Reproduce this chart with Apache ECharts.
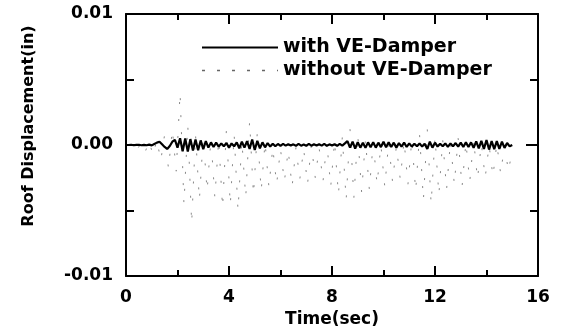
<!DOCTYPE html>
<html>
<head>
<meta charset="utf-8">
<script src="https://cdn.jsdelivr.net/npm/echarts@6/dist/echarts.min.js"></script>
<style>
  html, body { margin: 0; padding: 0; background: #fff; }
  #chart { width: 562px; height: 336px; }
</style>
</head>
<body>
<div id="chart"></div>
<script>
// roof displacement (in)
const xTicks = [0, 4, 8, 12, 16];
const yTicks = [-0.01, 0.00, 0.01];

// with VE-Damper: sampled every 0.1 s from 0 to 15 s
const withDamper = [
  0, 0, 0.00002, -0.00002, 0.00001, 0.00002, -0.00002, 0.00001, -0.00002, 0.00003, -0.00003,
  0.00008, 0.00018, 0.00025, 0.00005, -0.00015, -0.0003, -0.00008, 0.00025, 0.0004, -0.0002,
  0.00052, -0.00048, 0.0005, -0.0005, 0.00045, -0.00042, 0.00042, -0.0004, 0.00035, -0.00032, 0.0003,
  -0.0002, 0.0002, -0.00015, 0.00018, -0.00012, 0.00012, -0.0001, 0.00015, -0.0002, 0.00012, -0.0001,
  0.0002, -0.00025, 0.00025, -0.0002, 0.0003, -0.0003, 0.00042, -0.00038, 0.00032, -0.00025,
  0.0002, -0.00018, 0.00015, -0.00012, 0.0001, -0.0001, 0.00008, -0.00006, 0.00008, -0.00005,
  0.00006, -0.00004, 0.00005, -0.00006, 0.00008, -0.00005, 0.00004, -0.00006, 0.00009, -0.00005,
  0.00005, -0.00004, 0.00006, -0.00005, 0.00008, -0.00006, 0.00005, -0.00004, 0.00006, -0.00006,
  0.00008, -0.00005, 0.00012, 0.0003, -0.0002, 0.00025, -0.00028, 0.00022, -0.0002, 0.00018,
  -0.00022, 0.0002, -0.00018, 0.00022, -0.0002, 0.00018, -0.00016, 0.00025, -0.00018, 0.0002,
  -0.00015, 0.00018, -0.0002, 0.00015, -0.00012, 0.00018, -0.00015, 0.00012, -0.00012, 0.0001,
  -0.0001, 0.00012, -0.00012, 0.0001, -0.0003, 0.00025, -0.0002, 0.00018, -0.00012, 0.0001,
  -0.0001, 0.00012, -0.00014, 0.00012, -0.0001, 0.00015, -0.00012, 0.00018, -0.00015, 0.0002,
  -0.00015, 0.0002, -0.00022, 0.00028, -0.00025, 0.00032, -0.0003, 0.00038, -0.00035, 0.0003,
  -0.00032, 0.0003, -0.0003, 0.00025, -0.00022, 0.00015, -0.0001, 0
];

// without VE-Damper: peaks / troughs every 0.15 s from 0 to 15 s
const withoutDamper = [
  0, -0.0001, 0.0001, -0.0003, 0.0002, -0.0005, 0.0003, -0.0008,
  0.0004, -0.0012, 0.0008, -0.0018, 0.0012, -0.002, 0.004, -0.0045, 0.0015, -0.006,
  0.0008, -0.0042, 0.0006, -0.0035, 0.0005, -0.004, 0.0004, -0.0048, 0.0012, -0.0046,
  0.0008, -0.005, 0.0003, -0.004, 0.0018, -0.0038, 0.001, -0.0035, 0.0002, -0.0032,
  -0.0002, -0.003, -0.0003, -0.0028, -0.0004, -0.0032, -0.0002, -0.0026, -0.0003, -0.003,
  0, -0.0025, -0.0002, -0.0028, 0.0002, -0.0032, 0.0003, -0.0038, 0.0006, -0.0042,
  0.0012, -0.004, 0.0008, -0.0036, 0.0004, -0.0034, 0.0002, -0.003, 0, -0.0032,
  0.0002, -0.0028, -0.0001, -0.0026, 0.0003, -0.003, 0.0004, -0.0035, 0.0008, -0.0042,
  0.0012, -0.0045, 0.0006, -0.0038, 0.0004, -0.0034, 0.0003, -0.003, 0.0005, -0.0032,
  0.0002, -0.0028, 0.0004, -0.0026, 0.0001, -0.0025, 0, -0.0024, 0.0001, -0.0022,
  0, -0.002, -0.0004
];

const withPts = withDamper.map((v, i) => [+(i * 0.1).toFixed(2), v]);
const withoutPts = withoutDamper.map((v, i) => [+(i * 0.15).toFixed(2), v]);

const font = 'DejaVu Sans';
const myChart = echarts.init(document.getElementById('chart'), null, { renderer: 'canvas' });

const frameLine = { show: true, onZero: false, lineStyle: { color: '#000', width: 2 } };
const noLabel = { show: false };

const option = {
  animation: false,
  backgroundColor: '#fff',
  grid: { left: 126, right: 24, top: 14, bottom: 60 },
  legend: {
    orient: 'vertical',
    left: 196,
    top: 33,
    itemWidth: 76,
    itemHeight: 16,
    itemGap: 4,
    textStyle: { fontFamily: font, fontWeight: 'bold', fontSize: 19, color: '#000' },
    data: [
      { name: 'with VE-Damper', itemStyle: { opacity: 0 }, lineStyle: { color: '#000', width: 2 } },
      { name: 'without VE-Damper', itemStyle: { opacity: 0 }, lineStyle: { type: [3, 12], color: '#666', width: 1.5 } }
    ]
  },
  xAxis: [
    {
      type: 'value', min: xTicks[0], max: xTicks[xTicks.length - 1], interval: 4,
      name: 'Time(sec)', nameLocation: 'middle', nameGap: 32,
      nameTextStyle: { fontFamily: font, fontWeight: 'bold', fontSize: 17, color: '#000' },
      axisLine: frameLine,
      axisTick: { show: true, inside: true, length: 10, lineStyle: { color: '#000', width: 2 } },
      minorTick: { show: true, splitNumber: 2, length: 6, lineStyle: { color: '#000', width: 2 } },
      axisLabel: { margin: 13, fontFamily: font, fontWeight: 'bold', fontSize: 17, color: '#000' },
      splitLine: { show: false }
    },
    {
      type: 'value', position: 'top', min: xTicks[0], max: xTicks[xTicks.length - 1], interval: 4,
      axisLine: frameLine,
      axisTick: { show: true, inside: true, length: 10, lineStyle: { color: '#000', width: 2 } },
      minorTick: { show: true, splitNumber: 2, length: 6, lineStyle: { color: '#000', width: 2 } },
      axisLabel: noLabel,
      splitLine: { show: false }
    }
  ],
  yAxis: [
    {
      type: 'value', min: yTicks[0], max: yTicks[yTicks.length - 1], interval: 0.01,
      name: 'Roof Displacement(in)', nameLocation: 'middle', nameGap: 89,
      nameTextStyle: { fontFamily: font, fontWeight: 'bold', fontSize: 16, color: '#000', padding: [0, 0, 0, 38] },
      axisLine: frameLine,
      axisTick: { show: true, inside: true, length: 9, lineStyle: { color: '#000', width: 2 } },
      minorTick: { show: true, splitNumber: 2, length: 8, lineStyle: { color: '#000', width: 2 } },
      axisLabel: {
        margin: 13, fontFamily: font, fontWeight: 'bold', fontSize: 17, color: '#000',
        formatter: v => v.toFixed(2)
      },
      splitLine: { show: false }
    },
    {
      type: 'value', position: 'right', min: yTicks[0], max: yTicks[yTicks.length - 1], interval: 0.01,
      axisLine: frameLine,
      axisTick: { show: true, inside: true, length: 12, lineStyle: { color: '#000', width: 2 } },
      minorTick: { show: true, splitNumber: 2, length: 8, lineStyle: { color: '#000', width: 2 } },
      axisLabel: noLabel,
      splitLine: { show: false }
    }
  ],
  series: [
    {
      name: 'without VE-Damper',
      type: 'line',
      data: withoutPts,
      symbol: 'none',
      color: '#888',
      z: 1,
      lineStyle: { color: '#888', width: 1, type: [2, 15] }
    },
    {
      name: 'with VE-Damper',
      type: 'line',
      data: withPts,
      symbol: 'none',
      color: '#000',
      z: 3,
      lineStyle: { color: '#000', width: 2.2 }
    }
  ]
};

myChart.setOption(option);
</script>
</body>
</html>
